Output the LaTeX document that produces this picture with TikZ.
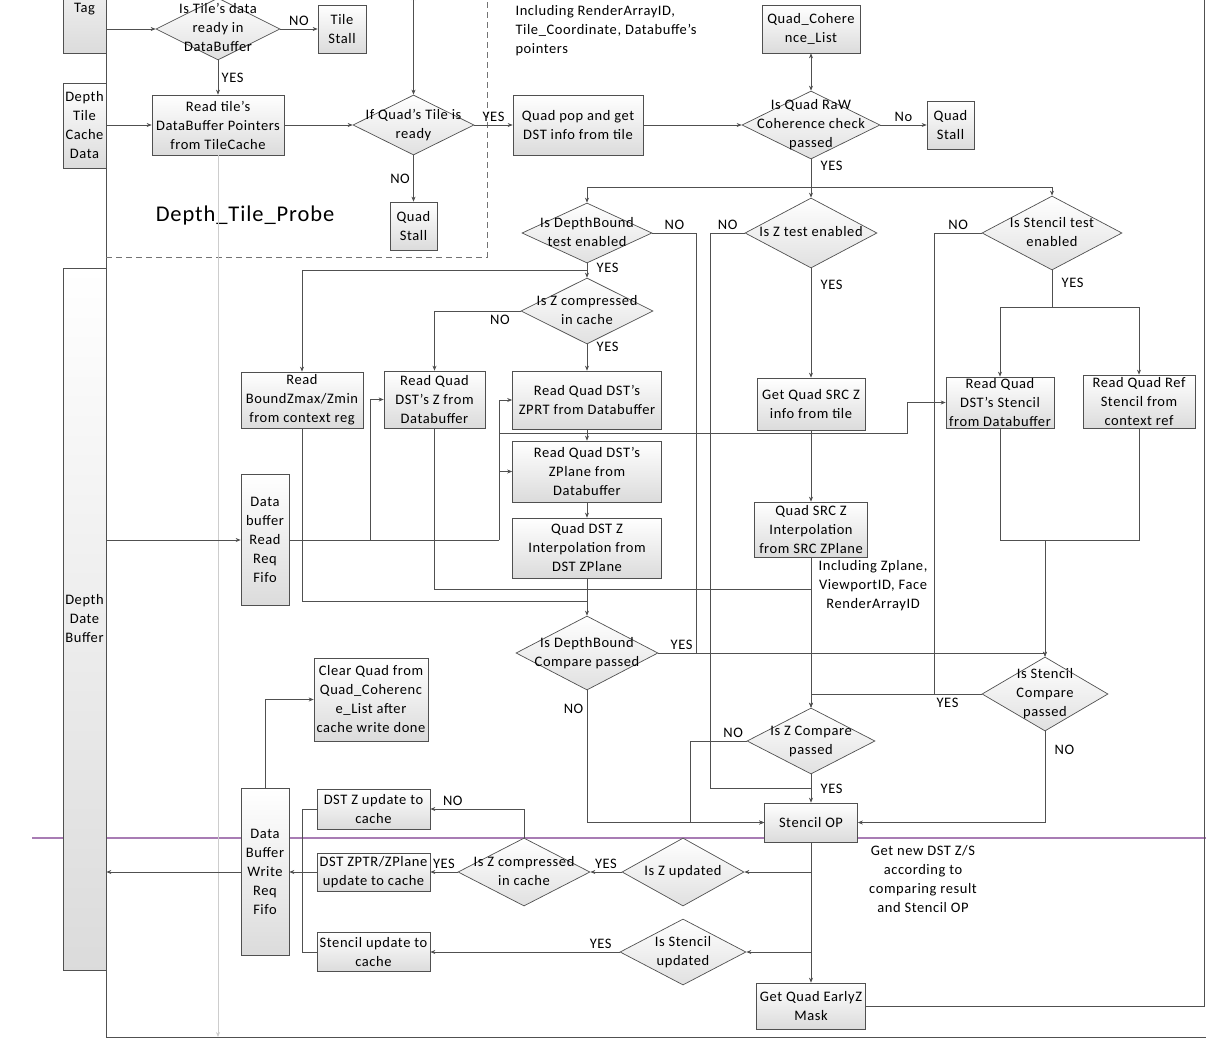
\documentclass[tikz,border=0pt]{standalone}
\usepackage{fontspec}
\setmainfont{Carlito}[LetterSpace=4]
\usetikzlibrary{shapes.geometric,arrows.meta,backgrounds}

\definecolor{wirec}{RGB}{80,80,80}
\definecolor{rulec}{RGB}{168,124,180}
\definecolor{faintc}{RGB}{205,205,205}

\tikzset{
  box/.style={draw=wirec, line width=.7pt, top color=white, bottom color=black!14, align=center, inner sep=1pt},
  dia/.style={diamond, draw=wirec, line width=.7pt, top color=white, bottom color=black!12, inner sep=0pt},
  sz/.style 2 args={minimum width=#1, minimum height=#2},
  link/.style={draw=wirec, line width=.7pt},
  note/.style={align=center},
}
% diamond text that does not grow the diamond
\newcommand{\dtext}[1]{\makebox[0pt]{\raisebox{-0.25em}[0pt][0pt]{\begin{tabular}{@{}c@{}}#1\end{tabular}}}}

\begin{document}
\begin{tikzpicture}[x=1pt,y=-1pt,font=\fontsize{14.5}{19}\selectfont,>={Stealth[length=5pt,width=4pt]}]
    \useasboundingbox (0,0) rectangle (1206,1043);
    % left column
    \node[box,sz={43}{112}] (tag)     at (84.5,-3)    {\raisebox{-16pt}[0pt][0pt]{Tag}};
    \node[box,sz={43}{85}]  (dtcache) at (84.5,125.5) {Depth\\Tile\\Cache\\Data};
    \node[box,sz={43}{702}] (ddbuf)   at (84.5,619)   {Depth\\Date\\Buffer};
    % Depth_Tile_Probe
    \node[dia,sz={124}{62}] (tileq)      at (218,29)    {\dtext{Is Tile's data\\ready in\\DataBuffer}};
    \node[box,sz={48}{48}]  (tilestall)  at (342,29)    {Tile\\Stall};
    \node[box,sz={132}{60}] (rdtile)     at (218,125)   {Read tile's\\DataBuffer Pointers\\from TileCache};
    \node[dia,sz={121}{60}] (quadq)      at (413.5,125) {\dtext{If Quad's Tile is\\ready}};
    \node[box,sz={47}{48}]  (quadstall1) at (413.5,226) {Quad\\Stall};
    \node[font=\fontsize{22.5}{26}\selectfont] (probe) at (245,216) {Depth\_Tile\_Probe};
    \coordinate (qtop) at (413.5,-5);
    % quad pop and coherence
    \node[box,sz={130}{60}] (qpop)       at (578,125)   {Quad pop and get\\DST info from tile};
    \node[align=left,anchor=west] (incl1) at (512,31)   {Including RenderArrayID,\\Tile\_Coordinate, Databuffe's\\pointers};
    \node[box,sz={98}{48}]  (coh)        at (811,29)    {Quad\_Cohere\\nce\_List};
    \node[dia,sz={138}{68}] (rawq)       at (811,125)   {\dtext{Is Quad RaW\\Coherence check\\passed}};
    \node[box,sz={47}{48}]  (quadstall2) at (950.5,125) {Quad\\Stall};
    % test enables
    \node[dia,sz={130}{60}] (dbq)  at (587,233)  {\dtext{Is DepthBound\\test enabled}};
    \node[dia,sz={132}{70}] (ztq)  at (811,233)  {\dtext{Is Z test enabled}};
    \node[dia,sz={140}{74}] (stq)  at (1052,233) {\dtext{Is Stencil test\\enabled}};
    \node[dia,sz={132}{66}] (zcq)  at (587,311)  {\dtext{Is Z compressed\\in cache}};
    % reads
    \node[box,sz={122}{56}] (rdbound)    at (302,400)    {Read\\BoundZmax/Zmin\\from context reg};
    \node[box,sz={101}{57}] (rdz)        at (434.5,399.5) {Read Quad\\DST's Z from\\Databuffer};
    \node[box,sz={149}{58}] (rdzprt)     at (587,400)    {Read Quad DST's\\ZPRT from Databuffer};
    \node[box,sz={149}{61}] (rdzplane)   at (587,471.5)  {Read Quad DST's\\ZPlane from\\Databuffer};
    \node[box,sz={149}{60}] (dstinterp)  at (587,548)    {Quad DST Z\\Interpolation from\\DST ZPlane};
    \node[box,sz={48}{131}] (rdfifo)     at (265,540)    {Data\\buffer\\Read\\Req\\Fifo};
    \node[box,sz={108}{52}] (srcz)       at (811,404)    {Get Quad SRC Z\\info from tile};
    \node[box,sz={113}{55}] (srcinterp)  at (811,529.5)  {Quad SRC Z\\Interpolation\\from SRC ZPlane};
    \node[note] (incl2) at (873,586) {Including Zplane,\\ViewportID, Face\\RenderArrayID};
    \node[box,sz={108}{51}] (rdstencil)  at (1000,402.5) {Read Quad\\DST's Stencil\\from Databuffer};
    \node[box,sz={112}{53}] (rdref)      at (1139,401.5) {Read Quad Ref\\Stencil from\\context ref};
    % compares
    \node[dia,sz={142}{74}] (dbcmp)     at (587,653)    {\dtext{Is DepthBound\\Compare passed}};
    \node[dia,sz={126}{74}] (stcmp)     at (1045,694)   {\dtext{Is Stencil\\Compare\\passed}};
    \node[dia,sz={128}{66}] (zcmp)      at (811,741)    {\dtext{Is Z Compare\\passed}};
    \node[box,sz={93}{39}]  (stencilop) at (811,822.5)  {Stencil OP};
    % write back
    \node[box,sz={114}{83}] (clearq)  at (371,699.5) {Clear Quad from\\Quad\_Coherenc\\e\_List after\\cache write done};
    \node[box,sz={48}{167}] (wrfifo)  at (265,872)   {Data\\Buffer\\Write\\Req\\Fifo};
    \node[box,sz={113}{40}] (zupd)    at (373.5,809) {DST Z update to\\cache};
    \node[box,sz={113}{38}] (zptrupd) at (373.5,872) {DST ZPTR/ZPlane\\update to cache};
    \node[box,sz={113}{39}] (stupd)   at (373.5,952) {Stencil update to\\cache};
    \node[dia,sz={132}{68}] (zcq2)    at (524,872)   {\dtext{Is Z compressed\\in cache}};
    \node[dia,sz={122}{68}] (zupq)    at (683,872)   {\dtext{Is Z updated}};
    \node[dia,sz={126}{66}] (stupq)   at (683,952)   {\dtext{Is Stencil\\updated}};
    \node[box,sz={109}{46}] (earlyz)  at (811,1006)  {Get Quad EarlyZ\\Mask};
    \node[note] (getnew) at (923,879.5) {Get new DST Z/S\\according to\\comparing result\\and Stencil OP};
    \coordinate (etop) at (1204,-5);

    \begin{pgfonlayer}{background}
      \draw[rulec, line width=2.6pt] (32,838) -- (1206,838);
    \end{pgfonlayer}
    \draw[link] (106,0) -- (106,1037) -- (1206,1037);
    \draw[wirec!80, line width=1pt, dash pattern=on 6pt off 4pt] (106,257) -- (487,257) -- (487,0);
    \draw[faintc, line width=.7pt, ->] (rdtile) -- (rdtile |- 0,1037);

    % probe edges
    \path[link,->]
    (tileq -| tag.east) edge (tileq)
    (tileq) edge node[above] {NO} (tilestall)
    (tileq) edge node[right] {YES} (rdtile)
    (rdtile -| dtcache.east) edge (rdtile)
    (rdtile) edge (quadq)
    (qtop) edge (quadq)
    (quadq) edge node[left] {NO} (quadstall1)
    (quadq) edge node[above] {YES} (qpop)
    (qpop) edge (rawq)
    (rawq) edge node[above] {No} (quadstall2);
    \path[link,<->] (coh) edge (rawq);

    % coherence passed, fan out
    \draw[link] (rawq) -- node[right=6pt,pos=.25] {YES} (rawq |- 0,187) coordinate (br);
    \draw[link,->] (br) -| (dbq);
    \draw[link,->] (br) -| (stq);
    \draw[link,->] (br) -- (ztq);

    % not enabled
    \draw[link] (dbq.east) -- node[above] {NO} ++(44,0) |- (dbcmp.east);
    \draw[link] (ztq.west) -- node[above] {NO} ++(-34,0) |- (zcmp |- 0,788);
    \draw[link] (stq.west) -- node[above] {NO} ++(-47,0) |- (stcmp.west);

    % straight edges
    \path[link,->]
    (ztq) edge node[right=6pt,pos=.15] {YES} (srcz)
    (srcz) edge (srcinterp)
    (srcinterp) edge (zcmp)
    (dbq) edge node[right=6pt,pos=.3] {YES} (zcq)
    (zcq) edge node[right=6pt,pos=.1] {YES} (rdzprt)
    (rdzprt) edge (rdzplane)
    (rdzplane) edge (dstinterp)
    (dstinterp) edge (dbcmp)
    (zcmp) edge node[right=6pt] {YES} (stencilop)
    (stencilop) edge (earlyz)
    (zupq) edge node[above] {YES} (zcq2)
    (zcq2) edge node[above] {YES} (zptrupd)
    (zptrupd) edge (wrfifo)
    (stupq) edge node[above,pos=.1] {YES} (stupd);
    \draw[link,->] (wrfifo.west) -- (wrfifo -| ddbuf.east);
    \draw[link,->] (rdfifo -| ddbuf.east) -- (rdfifo.west);

    % depth bound and Z reads
    \draw[link,->] (dbq.south |- 0,270) -| (rdbound);
    \draw[link,->] (zcq.west) -| node[below,pos=.12] {NO} (rdz);
    \draw[link] (rdbound) |- (dbcmp |- 0,601);
    \draw[link] (rdz) |- (zcmp |- 0,589);
    \draw[link] (rdfifo.east) -- ++(210,0) coordinate (fo);
    \draw[link,->] (rdfifo.east -| 370,0) |- (rdz);
    \draw[link,->] (fo) |- (rdzprt);
    \draw[link,->] (fo) |- (rdzplane);
    \draw[link,->] (fo |- 0,433) -- (907,433) |- (rdstencil);

    % stencil reads
    \draw[link] (stq.south) -- node[right=6pt,pos=.35] {YES} ++(0,37) coordinate (sty);
    \draw[link,->] (sty) -| (rdstencil);
    \draw[link,->] (sty) -| (rdref);
    \draw[link] (rdstencil.south) -- (rdstencil.south |- 0,540) -| (rdref.south);
    \draw[link,->] (stcmp |- 0,540) -- (stcmp);

    % compares
    \draw[link,->] (dbcmp.east) -| node[above,pos=.03] {YES} (stcmp);
    \draw[link,->] (dbcmp) |- node[left,pos=.07] {NO} (stencilop);
    \draw[link,->] (stcmp) -| node[below,pos=.1] {YES} (zcmp);
    \draw[link,->] (stcmp) |- node[right=6pt,pos=.1] {NO} (stencilop);
    \draw[link,->] (zcmp.west) -- node[above left,pos=0] {NO} ++(-56,0) |- (stencilop);

    % write back
    \draw[link,->] (stencilop |- zupq) -- (zupq);
    \draw[link,->] (stencilop |- stupq) -- (stupq);
    \draw[link,->] (zcq2) |- node[above,pos=.88] {NO} (zupd);
    \draw[link] (zupd.west) -- ++(-14,0) |- (stupd.west);
    \draw[link,->] (wrfifo) |- (clearq);
    \draw[link] (earlyz) -| (etop);
  \end{tikzpicture}
\end{document}
